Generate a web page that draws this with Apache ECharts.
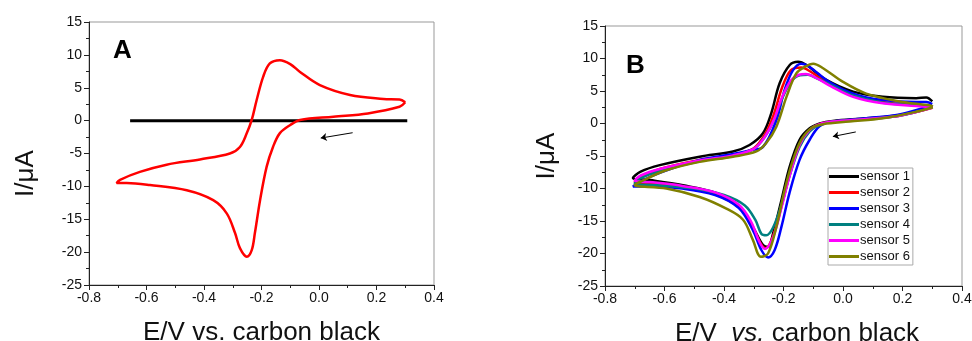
<!DOCTYPE html>
<html>
<head>
<meta charset="utf-8">
<script src="https://cdn.jsdelivr.net/npm/echarts@6/dist/echarts.min.js"></script>
<style>
  html, body { margin: 0; padding: 0; background: #fff; }
  #main { width: 972px; height: 341px; }
</style>
</head>
<body>
<div id="main"></div>
<script>
// panel A: blank (black) and modified electrode (red)
const blankE = [-0.657, 0.307];
const blankI = [0, 0];
const cvA_E = [0.30, 0.28, 0.17, 0.05, -0.066, -0.10, -0.136, -0.16, -0.182, -0.205, -0.223, -0.234, -0.251, -0.275, -0.292, -0.321, -0.368, -0.46, -0.588, -0.669, -0.704, -0.692, -0.623, -0.53, -0.414, -0.31, -0.275, -0.251, -0.234, -0.217, -0.194, -0.171, -0.136, -0.10, -0.066, 0.003, 0.108, 0.224, 0.28, 0.30];
const cvA_I = [2.8, 2.1, 1.1, 0.6, 0.1, -0.66, -1.9, -4.0, -7.0, -12.1, -17.1, -19.7, -20.7, -19.4, -17.1, -14.1, -12.1, -10.6, -9.8, -9.5, -9.5, -9.0, -7.8, -6.7, -5.9, -5.0, -4.0, -1.9, 0.1, 3.1, 6.7, 8.7, 9.2, 8.6, 7.4, 5.4, 3.9, 3.3, 3.2, 2.8];
const arrowA = [[0.117, -1.84], [0.006, -2.65]];

// panel B: six sensors
const sensorNames = ["sensor 1", "sensor 2", "sensor 3", "sensor 4", "sensor 5", "sensor 6"];
const sensorColors = ["#000000", "#ff0000", "#0000ff", "#008080", "#ff00ff", "#808000"];

const s1E = [0.30, 0.19, 0.078, -0.034, -0.078, -0.112, -0.146, -0.179, -0.207, -0.235, -0.252, -0.269, -0.303, -0.347, -0.426, -0.538, -0.65, -0.706, -0.68, -0.616, -0.482, -0.37, -0.314, -0.269, -0.241, -0.213, -0.179, -0.151, -0.123, -0.056, 0.034, 0.134, 0.246, 0.28, 0.30];
const s1I = [2.6, 1.3, 0.8, 0.4, 0.0, -0.74, -2.5, -6.6, -11.8, -16.9, -19.0, -18.7, -15.9, -12.8, -10.7, -9.5, -8.7, -8.4, -7.4, -6.4, -5.1, -4.3, -3.3, -1.5, 1.6, 6.2, 9.0, 9.5, 9.0, 6.7, 4.9, 4.1, 3.9, 4.0, 3.4];

const s2E = [0.30, 0.19, 0.078, -0.034, -0.078, -0.112, -0.146, -0.179, -0.207, -0.235, -0.26, -0.28, -0.31, -0.35, -0.43, -0.54, -0.65, -0.70, -0.68, -0.616, -0.482, -0.37, -0.30, -0.26, -0.232, -0.205, -0.175, -0.14, -0.11, -0.05, 0.034, 0.134, 0.246, 0.30];
const s2I = [2.4, 1.2, 0.7, 0.3, -0.1, -1.0, -3.2, -7.8, -12.8, -17.3, -19.2, -18.2, -15.3, -12.9, -10.9, -9.8, -9.2, -9.0, -8.2, -7.0, -5.6, -4.9, -3.8, -1.5, 1.5, 5.5, 8.2, 8.6, 8.0, 6.2, 4.4, 3.3, 2.8, 2.7];

const s3E = [0.30, 0.19, 0.078, -0.034, -0.078, -0.112, -0.146, -0.18, -0.207, -0.23, -0.252, -0.274, -0.303, -0.35, -0.43, -0.54, -0.65, -0.706, -0.68, -0.616, -0.482, -0.37, -0.31, -0.269, -0.224, -0.196, -0.168, -0.14, -0.112, -0.05, 0.034, 0.134, 0.246, 0.28, 0.30];
const s3I = [2.8, 1.4, 0.8, 0.3, -0.4, -2.5, -5.6, -10.7, -15.9, -19.5, -20.6, -19.5, -16.4, -13.0, -11.0, -10.0, -9.7, -9.7, -8.9, -7.6, -5.6, -4.7, -4.1, -3.6, 0.5, 5.2, 8.2, 9.2, 8.7, 6.5, 4.6, 3.6, 3.3, 3.3, 3.0];

const s4E = [0.30, 0.19, 0.078, -0.034, -0.078, -0.112, -0.146, -0.179, -0.207, -0.235, -0.258, -0.274, -0.295, -0.33, -0.40, -0.50, -0.62, -0.70, -0.68, -0.616, -0.482, -0.37, -0.30, -0.262, -0.232, -0.205, -0.175, -0.145, -0.118, -0.09, -0.04, 0.034, 0.134, 0.246, 0.30];
const s4I = [2.5, 1.2, 0.7, 0.3, -0.2, -1.2, -3.6, -8.0, -12.5, -16.0, -17.2, -17.0, -14.8, -12.6, -11.0, -10.0, -9.5, -9.2, -8.4, -7.3, -5.8, -5.0, -3.9, -2.0, 0.5, 3.8, 6.4, 7.4, 7.5, 7.0, 5.9, 4.3, 3.2, 2.8, 2.6];

const s5E = [0.30, 0.19, 0.078, -0.034, -0.078, -0.112, -0.146, -0.179, -0.207, -0.235, -0.262, -0.28, -0.31, -0.35, -0.43, -0.54, -0.65, -0.70, -0.68, -0.616, -0.482, -0.37, -0.30, -0.262, -0.232, -0.205, -0.175, -0.148, -0.125, -0.09, -0.04, 0.034, 0.134, 0.246, 0.30];
const s5I = [2.4, 1.2, 0.7, 0.3, -0.1, -1.0, -3.3, -8.0, -13.0, -17.5, -19.3, -18.3, -15.0, -12.5, -10.6, -9.6, -9.0, -8.8, -8.0, -7.0, -5.7, -4.9, -3.9, -2.0, 0.6, 4.0, 6.6, 7.5, 7.6, 7.0, 5.7, 4.1, 3.1, 2.7, 2.5];

const s6E = [0.302, 0.246, 0.134, 0.022, -0.067, -0.106, -0.14, -0.168, -0.196, -0.224, -0.252, -0.276, -0.303, -0.336, -0.392, -0.482, -0.594, -0.70, -0.683, -0.594, -0.482, -0.37, -0.291, -0.258, -0.224, -0.19, -0.157, -0.129, -0.10, -0.067, 0.0, 0.078, 0.19, 0.291, 0.302];
const s6I = [2.5, 1.8, 0.8, 0.3, -0.1, -0.7, -2.5, -5.6, -10.2, -15.9, -20.0, -20.5, -17.9, -14.8, -13.1, -11.3, -10.0, -9.5, -9.0, -7.2, -5.9, -5.1, -4.3, -3.0, -0.5, 4.1, 7.7, 8.7, 9.2, 8.5, 6.4, 4.6, 3.4, 2.8, 2.6];

const sensorE = [s1E, s2E, s3E, s4E, s5E, s6E];
const sensorI = [s1I, s2I, s3I, s4I, s5I, s6I];
const arrowB = [[0.043, -1.3], [-0.034, -2.0]];

const FONT = "Liberation Sans, Arial, sans-serif";

function zip(xs, ys) {
  return xs.map((x, i) => [x, ys[i]]);
}

function xAxisFor(gridIndex, name, shift) {
  return {
    type: "value", gridIndex: gridIndex,
    min: -0.8, max: 0.4, interval: 0.2,
    name: name, nameLocation: "middle", nameGap: 35,
    nameTextStyle: { fontSize: 26, color: "#111", fontFamily: FONT, padding: [0, 0, 0, shift],
      rich: { it: { fontSize: 26, fontStyle: "italic", color: "#111", fontFamily: FONT } } },
    axisLine: { show: true, onZero: false, lineStyle: { color: "#222", width: 1 } },
    axisTick: { show: true, length: 5, lineStyle: { color: "#222" } },
    minorTick: { show: true, splitNumber: 2, length: 3, lineStyle: { color: "#222" } },
    splitLine: { show: false },
    axisLabel: { fontSize: 14, color: "#111", fontFamily: FONT, margin: 6,
      formatter: (v) => v.toFixed(1) }
  };
}

function yAxisFor(gridIndex, gap, shift) {
  return {
    type: "value", gridIndex: gridIndex,
    min: -25, max: 15, interval: 5,
    name: "I/μA", nameLocation: "middle", nameGap: gap,
    nameTextStyle: { fontSize: 26, color: "#111", fontFamily: FONT, padding: [0, shift, 0, 0] },
    axisLine: { show: true, onZero: false, lineStyle: { color: "#222", width: 1 } },
    axisTick: { show: true, length: 5, lineStyle: { color: "#222" } },
    minorTick: { show: true, splitNumber: 2, length: 3, lineStyle: { color: "#222" } },
    splitLine: { show: false },
    axisLabel: { fontSize: 14, color: "#111", fontFamily: FONT, margin: 7 }
  };
}

const chart = echarts.init(document.getElementById("main"));

const series = [
  {
    name: "blank", type: "line", xAxisIndex: 0, yAxisIndex: 0,
    data: zip(blankE, blankI), showSymbol: false,
    lineStyle: { color: "#000", width: 3 }, z: 3
  },
  {
    name: "cvA", type: "line", xAxisIndex: 0, yAxisIndex: 0,
    data: zip(cvA_E, cvA_I), showSymbol: false, smooth: 0.35,
    lineStyle: { color: "#ff0000", width: 2.5 }, z: 4
  },
  {
    type: "lines", coordinateSystem: "cartesian2d", xAxisIndex: 0, yAxisIndex: 0,
    symbol: ["none", "arrow"], symbolSize: 6,
    lineStyle: { color: "#000", width: 1, opacity: 1 },
    data: [{ coords: arrowA }]
  },
  {
    type: "lines", coordinateSystem: "cartesian2d", xAxisIndex: 1, yAxisIndex: 1,
    symbol: ["none", "arrow"], symbolSize: 6,
    lineStyle: { color: "#000", width: 1, opacity: 1 },
    data: [{ coords: arrowB }]
  }
];

sensorNames.forEach((name, k) => {
  series.push({
    name: name, type: "line", xAxisIndex: 1, yAxisIndex: 1,
    data: zip(sensorE[k], sensorI[k]), showSymbol: false, smooth: 0.35,
    color: sensorColors[k],
    lineStyle: { color: sensorColors[k], width: 2.5 }
  });
});

chart.setOption({
  animation: false,
  backgroundColor: "#fff",
  grid: [
    { left: 89, right: 538, top: 22, bottom: 56, show: true, borderColor: "#999", borderWidth: 1,
      outerBoundsMode: "none", containLabel: false },
    { left: 605, right: 10, top: 26, bottom: 55, show: true, borderColor: "#999", borderWidth: 1,
      outerBoundsMode: "none", containLabel: false }
  ],
  xAxis: [
    xAxisFor(0, "E/V vs. carbon black", 0),
    xAxisFor(1, "E/V  {it|vs.} carbon black", 27)
  ],
  yAxis: [yAxisFor(0, 50, 40), yAxisFor(1, 45, 0)],
  title: [
    { text: "A", left: 108, top: 33, textStyle: { fontSize: 26, fontWeight: "bold", color: "#000", fontFamily: FONT } },
    { text: "B", left: 621, top: 48, textStyle: { fontSize: 26, fontWeight: "bold", color: "#000", fontFamily: FONT } }
  ],
  legend: {
    data: sensorNames, orient: "vertical",
    left: 828, top: 168,
    icon: "rect", itemWidth: 30, itemHeight: 3, itemGap: 3,
    padding: [2, 3, 2, 1],
    borderColor: "#aaa", borderWidth: 1,
    textStyle: { fontSize: 13, color: "#111", fontFamily: FONT, padding: [0, 0, 0, -4] }
  },
  series: series
});
</script>
</body>
</html>
